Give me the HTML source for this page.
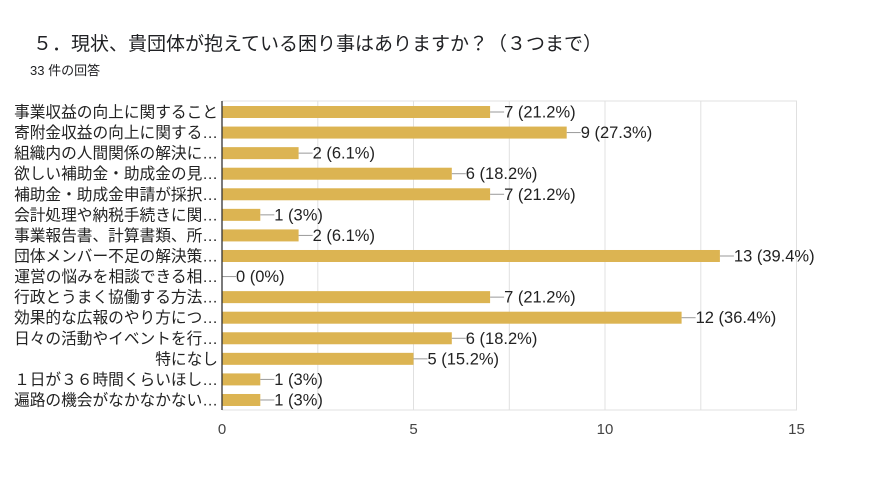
<!DOCTYPE html><html><head><meta charset="utf-8"><style>body{margin:0;background:#fff}svg{display:block}text{font-family:"Liberation Sans","Noto Sans CJK JP",sans-serif}</style></head><body>
<svg width="886" height="494" xmlns="http://www.w3.org/2000/svg">
<text x="33" y="50" font-size="19" fill="#202124">５．現状、貴団体が抱えている困り事はありますか？（３つまで）</text>
<text x="30" y="75" font-size="13" fill="#202124">33 件の回答</text>
<g stroke="#e0e0e0" stroke-width="1">
<line x1="222" y1="101" x2="797" y2="101"/><line x1="222" y1="410" x2="797" y2="410"/>
<line x1="317.8" y1="101" x2="317.8" y2="410"/><line x1="413.5" y1="101" x2="413.5" y2="410"/>
<line x1="509.3" y1="101" x2="509.3" y2="410"/><line x1="605" y1="101" x2="605" y2="410"/>
<line x1="700.8" y1="101" x2="700.8" y2="410"/><line x1="796.5" y1="101" x2="796.5" y2="410"/>
</g>
<g font-size="15" fill="#444" text-anchor="middle"><text x="222" y="434">0</text><text x="413.5" y="434">5</text><text x="605" y="434">10</text><text x="796.5" y="434">15</text></g>
<g id="rows" fill="#222"></g>
<line x1="222" y1="101" x2="222" y2="410" stroke="#333" stroke-width="1.3"/>
</svg>
<script>
const d=[["事業収益の向上に関すること",7,"21.2%"],["寄附金収益の向上に関する…",9,"27.3%"],["組織内の人間関係の解決に…",2,"6.1%"],["欲しい補助金・助成金の見…",6,"18.2%"],["補助金・助成金申請が採択…",7,"21.2%"],["会計処理や納税手続きに関…",1,"3%"],["事業報告書、計算書類、所…",2,"6.1%"],["団体メンバー不足の解決策…",13,"39.4%"],["運営の悩みを相談できる相…",0,"0%"],["行政とうまく協働する方法…",7,"21.2%"],["効果的な広報のやり方につ…",12,"36.4%"],["日々の活動やイベントを行…",6,"18.2%"],["特になし",5,"15.2%"],["１日が３６時間くらいほし…",1,"3%"],["遍路の機会がなかなかない…",1,"3%"]];
let s="";const u=38.3;
d.forEach((r,i)=>{const c=112+i*20.57;const w=r[1]*u;
s+=`<text x="218" y="${c+5.5}" text-anchor="end" font-size="15.7">${r[0]}</text>`;
if(w>0)s+=`<rect x="222" y="${c-6}" width="${w}" height="12" fill="#dcb452"/>`;
s+=`<line x1="${222+w}" y1="${c}" x2="${222+w+14}" y2="${c}" stroke="#999"/>`;
s+=`<text x="${222+w+14}" y="${c+5.5}" font-size="16.5">${r[1]} (${r[2]})</text>`;});
document.getElementById("rows").innerHTML=s;
</script>
</body></html>
